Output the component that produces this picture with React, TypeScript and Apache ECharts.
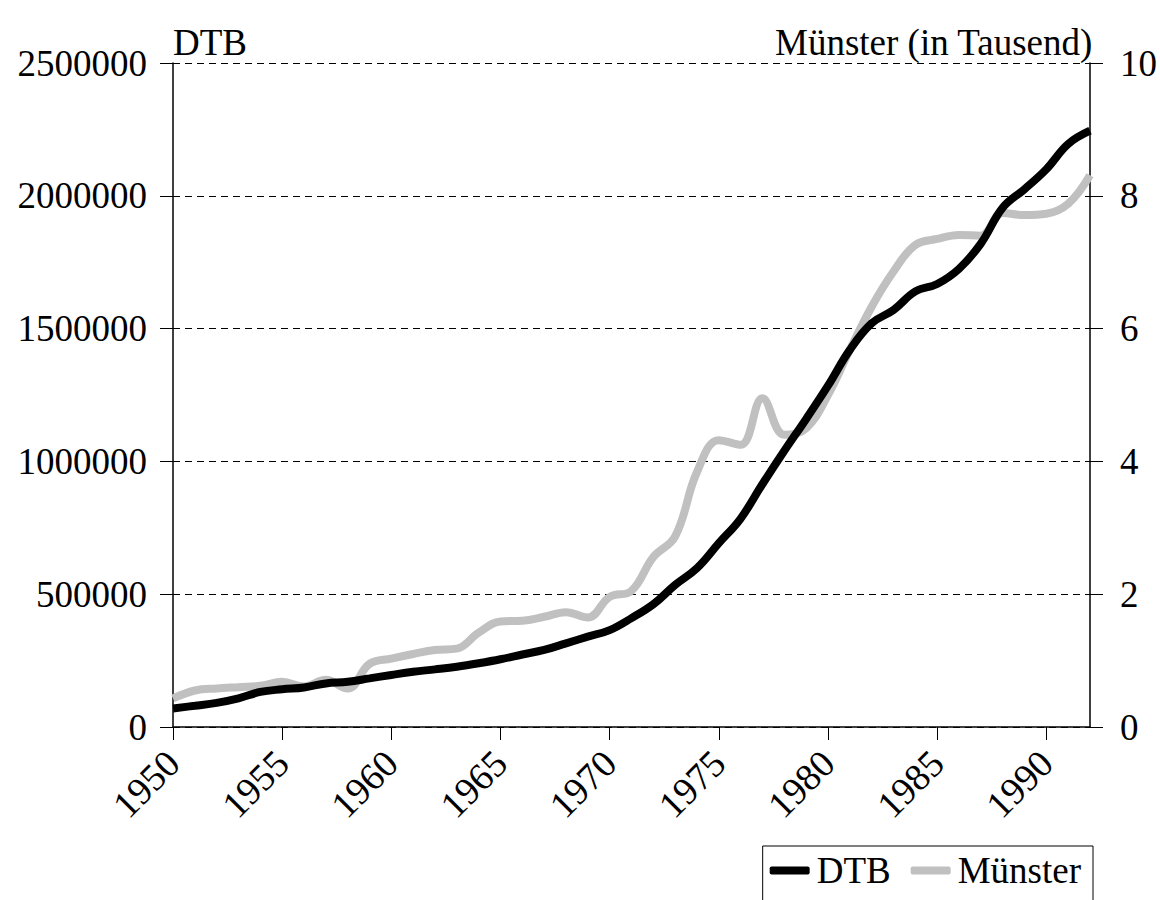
import React, { useEffect, useRef } from "react";
import * as echarts from "echarts";

const years = Array.from({ length: 43 }, (_, i) => String(1950 + i));
const dtbValues = [
  70000, 80000, 91000, 108000, 132000, 142000, 149000, 164000, 170000, 183000,
  196000, 208000, 217000, 227000, 240000, 255000, 273000, 290000, 315000, 340000,
  365000, 410000, 462000, 535000, 598000, 692000, 785000, 915000, 1040000, 1160000,
  1285000, 1420000, 1520000, 1570000, 1640000, 1668000, 1725000, 1820000, 1955000, 2025000,
  2100000, 2195000, 2245000,
];
const muensterValues = [
  0.43, 0.55, 0.58, 0.6, 0.62, 0.68, 0.61, 0.71, 0.58, 0.95,
  1.03, 1.1, 1.16, 1.18, 1.42, 1.59, 1.6, 1.66, 1.73, 1.65,
  1.96, 2.05, 2.56, 2.87, 3.84, 4.32, 4.25, 4.95, 4.4, 4.5,
  5.0, 5.68, 6.33, 6.86, 7.26, 7.35, 7.41, 7.4, 7.74, 7.71,
  7.73, 7.88, 8.31,
];
const leftTitle = "DTB";
const rightTitle = "Münster (in Tausend)";
const seriesNames = ["DTB", "Münster"];

const FONT = "'Liberation Serif', 'Times New Roman', serif";

export default function App() {
  const ref = useRef<HTMLDivElement>(null);
  useEffect(() => {
    if (!ref.current) return;
    const chart = echarts.init(ref.current, null, { renderer: "svg" });
    chart.setOption({
      animation: false,
      backgroundColor: "#ffffff",
      textStyle: { fontFamily: FONT, color: "#000" },
      grid: { left: 173, right: 70, top: 63, bottom: 173, containLabel: false },
      graphic: [
        {
          type: "text",
          left: 173,
          top: 24,
          style: { text: leftTitle, font: `37px ${FONT}`, fill: "#000" },
        },
        {
          type: "text",
          right: 67,
          top: 24,
          style: { text: rightTitle, font: `37px ${FONT}`, fill: "#000" },
        },
      ],
      legend: {
        data: seriesNames,
        right: 67,
        top: 846,
        orient: "horizontal",
        icon: "roundRect",
        itemWidth: 40,
        itemHeight: 8,
        itemGap: 20,
        borderColor: "#000",
        borderWidth: 1,
        borderRadius: 0,
        padding: [6, 12, 14, 7],
        textStyle: { fontFamily: FONT, fontSize: 37, color: "#000", padding: [0, 0, 0, 2] },
      },
      xAxis: {
        type: "category",
        data: years,
        boundaryGap: false,
        axisLine: { show: true, lineStyle: { color: "#000", width: 1.5 } },
        axisTick: { show: true, interval: 4, length: 13, lineStyle: { color: "#000" } },
        axisLabel: {
          interval: 4,
          rotate: 45,
          margin: 30,
          fontFamily: FONT,
          fontSize: 38,
          color: "#000",
        },
        splitLine: { show: false },
      },
      yAxis: [
        {
          type: "value",
          min: 0,
          max: 2500000,
          interval: 500000,
          position: "left",
          axisLine: { show: true, lineStyle: { color: "#000", width: 1.5 } },
          axisTick: { show: true, length: 13, lineStyle: { color: "#000" } },
          axisLabel: {
            margin: 26,
            fontFamily: FONT,
            fontSize: 37,
            color: "#000",
            formatter: (v: number) => String(v),
          },
          splitLine: { show: true, lineStyle: { color: "#000", type: [7, 5], width: 1 } },
        },
        {
          type: "value",
          min: 0,
          max: 10,
          interval: 2,
          position: "right",
          axisLine: { show: true, lineStyle: { color: "#000", width: 1.5 } },
          axisTick: { show: true, length: 13, lineStyle: { color: "#000" } },
          axisLabel: {
            margin: 30,
            fontFamily: FONT,
            fontSize: 37,
            color: "#000",
            formatter: (v: number) => String(v),
          },
          splitLine: { show: false },
        },
      ],
      series: [
        {
          name: seriesNames[1],
          type: "line",
          yAxisIndex: 1,
          data: muensterValues,
          smooth: 0.4,
          symbol: "none",
          itemStyle: { color: "#c0c0c0" },
          lineStyle: { color: "#c0c0c0", width: 8 },
        },
        {
          name: seriesNames[0],
          type: "line",
          yAxisIndex: 0,
          data: dtbValues,
          smooth: 0.4,
          symbol: "none",
          itemStyle: { color: "#000" },
          lineStyle: { color: "#000", width: 8 },
        },
      ],
    });
    return () => chart.dispose();
  }, []);
  return (
    <div
      ref={ref}
      style={{ position: "fixed", left: 0, top: 0, width: 1160, height: 900, background: "#fff" }}
    />
  );
}
